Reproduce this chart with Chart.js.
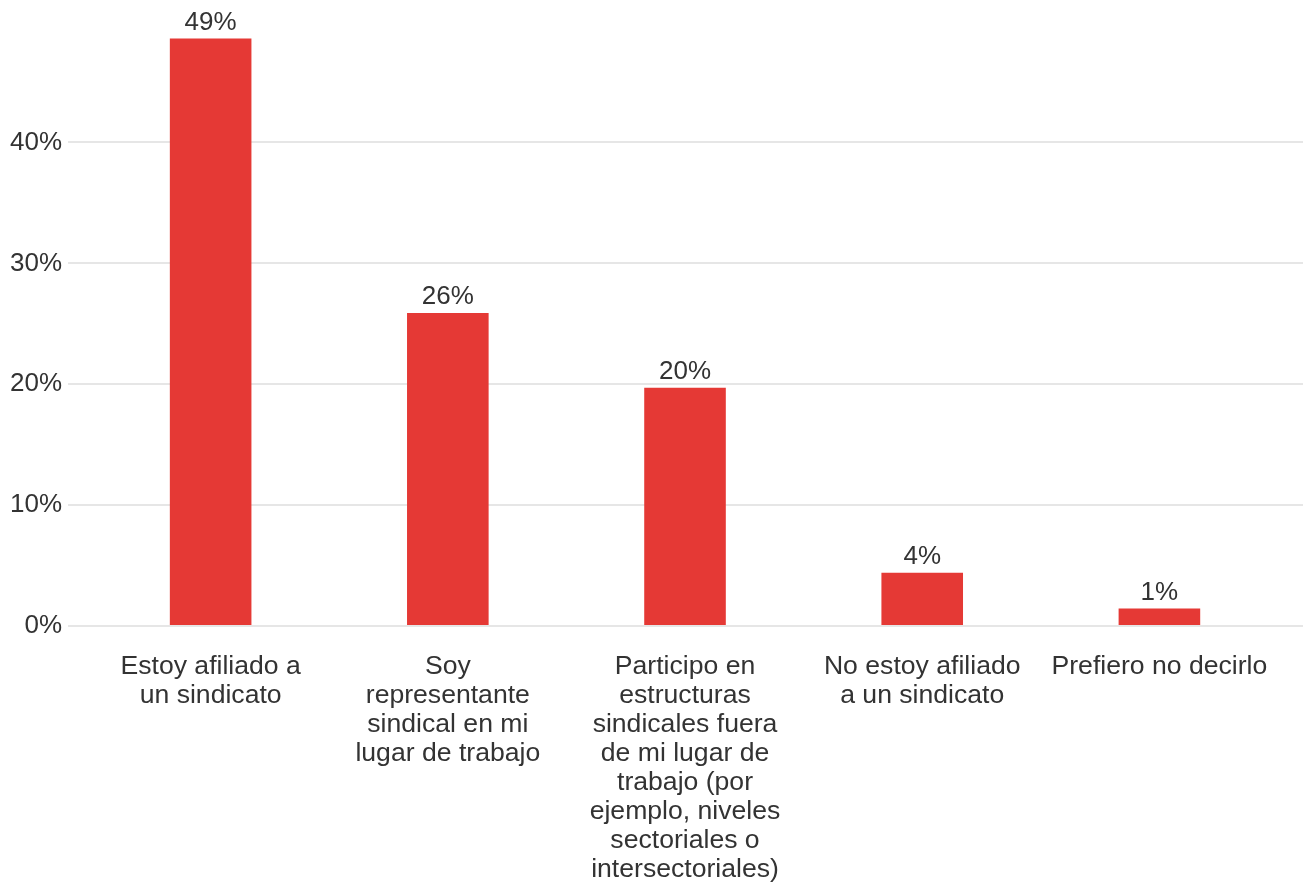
<!DOCTYPE html>
<html>
<head>
<meta charset="utf-8">
<script src="https://cdn.jsdelivr.net/npm/chart.js@4/dist/chart.umd.min.js"></script>
<style>
  html, body { margin: 0; padding: 0; background: #ffffff; }
  #wrap { width: 1303px; height: 884px; position: relative; }
</style>
</head>
<body>
<div id="wrap"><canvas id="c"></canvas></div>
<script>
const categories = [
  ["Estoy afiliado a", "un sindicato"],
  ["Soy", "representante", "sindical en mi", "lugar de trabajo"],
  ["Participo en", "estructuras", "sindicales fuera", "de mi lugar de", "trabajo (por", "ejemplo, niveles", "sectoriales o", "intersectoriales)"],
  ["No estoy afiliado", "a un sindicato"],
  ["Prefiero no decirlo"]
];
const values = [48.6, 25.9, 19.7, 4.4, 1.45];
const yTicks = [0, 10, 20, 30, 40];
const yMax = 50;

const FONT = "'Liberation Sans', Arial, sans-serif";
const TEXT = "#333333";
const GRID = "#e6e6e6";
const BAR = "#e53935";
const XFONT = 26.6;

const valueLabels = {
  id: "valueLabels",
  afterDatasetsDraw(chart) {
    const ctx = chart.ctx;
    const meta = chart.getDatasetMeta(0);
    ctx.save();
    ctx.font = "26px " + FONT;
    ctx.fillStyle = TEXT;
    ctx.textAlign = "center";
    ctx.textBaseline = "alphabetic";
    meta.data.forEach((bar, i) => {
      ctx.fillText(Math.round(values[i]) + "%", bar.x, bar.y - 8.5);
    });
    ctx.restore();
  }
};

const gridColor = (c) => (c.tick && yTicks.includes(c.tick.value)) ? GRID : "rgba(0,0,0,0)";

new Chart(document.getElementById("c"), {
  type: "bar",
  data: {
    labels: categories,
    datasets: [{
      data: values,
      backgroundColor: BAR,
      borderWidth: 0,
      categoryPercentage: 1,
      barPercentage: 0.344
    }]
  },
  options: {
    responsive: true,
    maintainAspectRatio: false,
    animation: false,
    events: [],
    layout: { padding: { top: 20, bottom: 2, left: 4, right: 0 } },
    plugins: {
      legend: { display: false },
      tooltip: { enabled: false }
    },
    scales: {
      x: {
        grid: { display: false, drawTicks: false },
        border: { display: false },
        afterFit: (scale) => { scale.height = 256; },
        ticks: {
          padding: 26,
          color: TEXT,
          maxRotation: 0,
          minRotation: 0,
          autoSkip: false,
          font: { family: FONT, size: XFONT, lineHeight: 29 / XFONT }
        }
      },
      y: {
        min: 0,
        max: yMax,
        position: "left",
        grid: { color: gridColor, lineWidth: 2, drawTicks: true, tickLength: 24 },
        border: { display: false },
        ticks: {
          stepSize: 10,
          padding: 6,
          color: TEXT,
          font: { family: FONT, size: 26 },
          callback: (v) => yTicks.includes(v) ? v + "%" : ""
        }
      },
      yRight: {
        min: 0,
        max: yMax,
        position: "right",
        grid: { color: gridColor, lineWidth: 2, drawTicks: true, tickLength: 25, drawOnChartArea: false },
        border: { display: false },
        ticks: { display: false, stepSize: 10 }
      }
    }
  },
  plugins: [valueLabels]
});
</script>
</body>
</html>
